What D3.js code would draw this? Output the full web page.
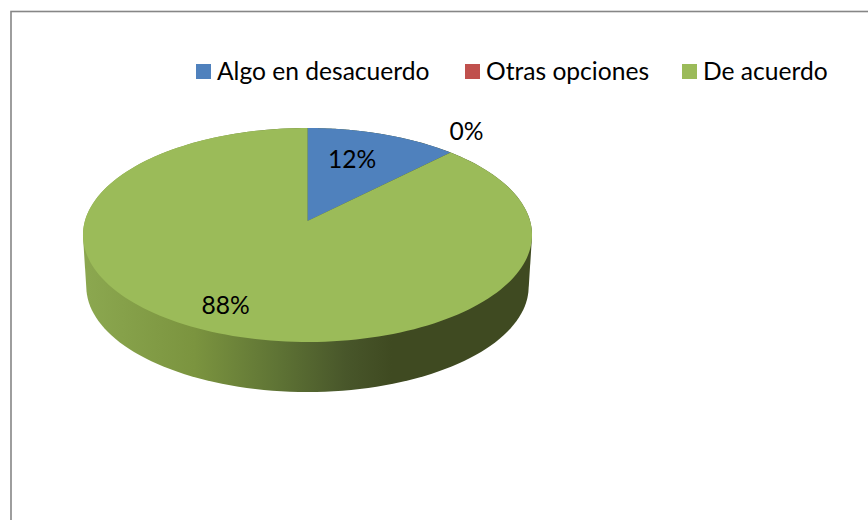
<!DOCTYPE html>
<html>
<head>
<meta charset="utf-8">
<script src="https://cdn.jsdelivr.net/npm/d3@7/dist/d3.min.js"></script>
<style>html,body{margin:0;background:#fff}svg{display:block}</style>
</head>
<body>
<svg id="c" width="868" height="520"></svg>
<script>
const categories = ["Algo en desacuerdo", "Otras opciones", "De acuerdo"];
const values = [12.4, 0, 87.6];
const colors = ["#4f81bd", "#c0504d", "#9bbb59"];

const svg = d3.select("#c");
const font = "Lato, Carlito, Calibri, sans-serif";

// chart frame (right and bottom edges lie beyond the crop)
svg.append("rect").attr("x", 11).attr("y", 11.5).attr("width", 1000).attr("height", 1000)
  .attr("fill", "#fff").attr("stroke", "#868686").attr("stroke-width", 1.6);

// projective tilt of a unit disc: gives the off-centre apex of the 3D pie
const cx = 307.5, apexY = 221, k = 222.6, a = 76.25, c = -0.1308;
function project(angle, r = 1) {
  const u = r * Math.sin(angle), v = -r * Math.cos(angle), w = 1 + c * v;
  return [cx + k * u / w, (a * v + apexY) / w];
}
// lower rim of the disc
const s = 0.985, drop = 51.8;
const lower = ([x, y]) => [cx + s * (x - cx), apexY + s * (y - apexY) + drop];

const pieGen = d3.pie().sort(null).value(d => d);
const arcs = pieGen(values);
const line = d3.line();
const rim = (a0, a1) => d3.range(0, 181).map(i => project(a0 + (a1 - a0) * i / 180));

// side wall
const defs = svg.append("defs");
const grad = defs.append("linearGradient").attr("id", "side").attr("gradientUnits", "userSpaceOnUse")
  .attr("x1", 88).attr("x2", 392).attr("y1", 0).attr("y2", 0);
[[0, "#8ba74f"], [0.35, "#7b943f"], [0.62, "#5f7435"], [0.85, "#48562a"], [1, "#3f4a21"]].forEach(([o, col]) =>
  grad.append("stop").attr("offset", o).attr("stop-color", col));

const whole = rim(0, 2 * Math.PI);
const hull = d3.polygonHull(whole.concat(whole.map(lower)));
svg.append("path").attr("d", line(hull) + "Z").attr("fill", "url(#side)");

// top face slices
svg.append("g").selectAll("path").data(arcs).join("path")
  .attr("d", d => d.endAngle > d.startAngle
    ? line([project(0, 0), ...rim(d.startAngle, d.endAngle)]) + "Z" : null)
  .attr("fill", (d, i) => colors[i]);

// data labels
const labelPos = [[352, 158.5], [466.5, 130.5], [225.5, 304.5]];
svg.append("g").selectAll("text").data(arcs).join("text")
  .attr("x", (d, i) => labelPos[i][0]).attr("y", (d, i) => labelPos[i][1])
  .attr("text-anchor", "middle").attr("dominant-baseline", "central")
  .attr("font-family", font).attr("font-size", 24.6).attr("fill", "#000")
  .text(d => d3.format(".0f")(d.value) + "%");

// legend
const swatchX = [196, 465, 682];
const lg = svg.append("g").selectAll("g").data(categories).join("g")
  .attr("transform", (d, i) => `translate(${swatchX[i]},64)`);
lg.append("rect").attr("width", 15).attr("height", 15).attr("fill", (d, i) => colors[i]);
lg.append("text").attr("x", 21).attr("y", 15.5)
  .attr("font-family", font).attr("font-size", 24.6).attr("fill", "#000").text(d => d);
</script>
</body>
</html>
